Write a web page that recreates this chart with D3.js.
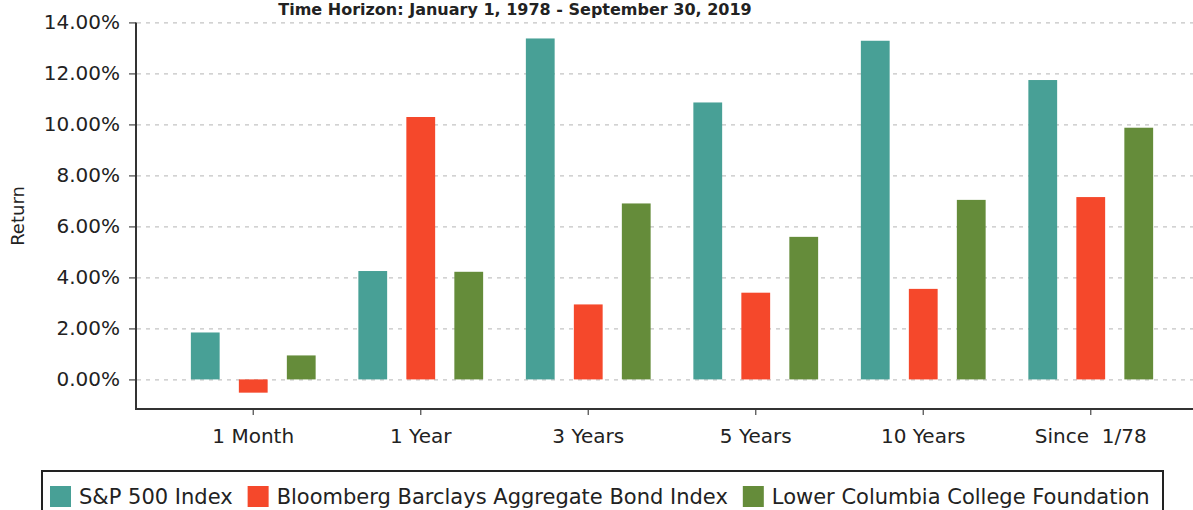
<!DOCTYPE html>
<html>
<head>
<meta charset="utf-8">
<script src="https://cdn.jsdelivr.net/npm/d3@7"></script>
<style>
  body { margin: 0; background: #fff; }
  svg { display: block; font-family: "DejaVu Sans", sans-serif; }
</style>
</head>
<body>
<svg id="vis-svg" width="1193" height="510"></svg>
<script>
var width  = 1193;
var height = 510;

// data (percent returns)
const periods = ["1 Month", "1 Year", "3 Years", "5 Years", "10 Years", "Since  1/78"];
const seriesNames = ["S&P 500 Index", "Bloomberg Barclays Aggregate Bond Index", "Lower Columbia College Foundation"];
const sp500   = [1.84, 4.25, 13.37, 10.86, 13.28, 11.74];
const bondAgg = [-0.52, 10.29, 2.94, 3.40, 3.55, 7.15];
const lccf    = [0.94, 4.22, 6.90, 5.59, 7.04, 9.87];
const yTicks  = [0, 2, 4, 6, 8, 10, 12, 14];
const colors  = ["#48a096", "#f5482b", "#658c3a"];

const series = [sp500, bondAgg, lccf];

const svg = d3.select("#vis-svg");

const x0 = d3.scaleBand().domain(periods).range([136, 1208]).paddingInner(0).paddingOuter(0.2);
const x1 = d3.scaleBand().domain(d3.range(3)).range([0, x0.bandwidth()]).paddingInner(0.4).paddingOuter(0.445);
const y = d3.scaleLinear().domain([-1.2, 14]).range([410, 22.4]);

// title (only a sliver shows in the original)
svg.append("text")
  .attr("x", 515).attr("y", 15)
  .attr("text-anchor", "middle")
  .attr("font-size", 16).attr("font-weight", "bold").attr("fill", "#222")
  .text("Time Horizon: January 1, 1978 - September 30, 2019");

// dashed grid
svg.append("g").selectAll("line").data(yTicks).enter().append("line")
  .attr("x1", 137).attr("x2", width)
  .attr("y1", d => y(d) + 0.5).attr("y2", d => y(d) + 0.5)
  .attr("stroke", "#c4c4c4").attr("stroke-width", 1.3)
  .attr("stroke-dasharray", "4,5");

// bars
const groups = svg.append("g").selectAll("g").data(periods).enter().append("g")
  .attr("transform", d => "translate(" + x0(d) + ",0)");

groups.selectAll("rect")
  .data((d, i) => series.map((s, k) => ({k: k, v: s[i]})))
  .enter().append("rect")
  .attr("x", d => x1(d.k))
  .attr("width", x1.bandwidth())
  .attr("y", d => y(Math.max(0, d.v)))
  .attr("height", d => Math.abs(y(d.v) - y(0)))
  .attr("fill", d => colors[d.k]);

// y axis
const yAxis = d3.axisLeft(y).tickValues(yTicks).tickSize(7).tickSizeOuter(0)
  .tickFormat(d => d.toFixed(2) + "%");
const gy = svg.append("g").attr("transform", "translate(136,0)").call(yAxis);
gy.select(".domain").remove();
gy.append("line").attr("x1", 0).attr("x2", 0).attr("y1", y(14)).attr("y2", y(-1.2))
  .attr("stroke", "#333").attr("stroke-width", 2);
gy.selectAll(".tick line").attr("stroke", "#555").attr("stroke-width", 1.3);
gy.selectAll(".tick text").attr("x", -16).attr("font-size", 20).attr("fill", "#222")
  .attr("font-family", "DejaVu Sans, sans-serif");

// x axis
const xAxis = d3.axisBottom(x0).tickSize(6).tickSizeOuter(0).tickPadding(14);
const gx = svg.append("g").attr("transform", "translate(0,409)").call(xAxis);
gx.select(".domain").remove();
gx.append("line").attr("x1", 135).attr("x2", width).attr("y1", 0).attr("y2", 0)
  .attr("stroke", "#333").attr("stroke-width", 2);
gx.selectAll(".tick line").attr("stroke", "#555").attr("stroke-width", 1.3);
gx.selectAll(".tick text").attr("font-size", 20).attr("fill", "#222")
  .attr("font-family", "DejaVu Sans, sans-serif").style("white-space", "pre");

// y title
svg.append("text")
  .attr("transform", "translate(24,216) rotate(-90)")
  .attr("text-anchor", "middle")
  .attr("font-size", 18).attr("fill", "#222")
  .text("Return");

// legend
const legend = svg.append("g");
legend.append("rect")
  .attr("x", 42).attr("y", 471).attr("width", 1121).attr("height", 60)
  .attr("fill", "none").attr("stroke", "#222").attr("stroke-width", 2);

let lx = 50;
seriesNames.forEach((name, k) => {
  legend.append("rect").attr("x", lx).attr("y", 486).attr("width", 21).attr("height", 21)
    .attr("fill", colors[k]);
  const t = legend.append("text").attr("x", lx + 29).attr("y", 504)
    .attr("font-size", 21).attr("fill", "#222").text(name);
  lx += 29 + t.node().getComputedTextLength() + 15;
});
</script>
</body>
</html>
